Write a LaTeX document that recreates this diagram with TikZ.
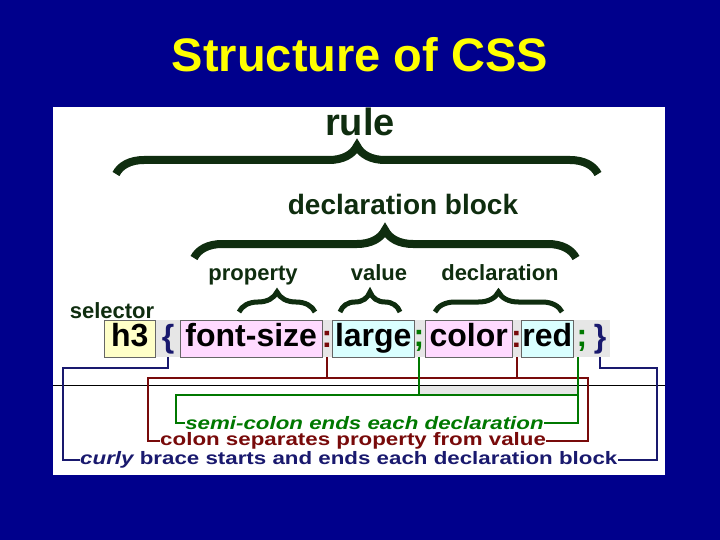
\documentclass[tikz,border=0pt]{standalone}
\usepackage{fontspec}
\setmainfont{Liberation Sans}
\usetikzlibrary{decorations.pathreplacing}
\definecolor{bg}{RGB}{0,0,140}
\definecolor{ttl}{RGB}{255,255,0}
\definecolor{brc}{RGB}{15,45,15}
\definecolor{dgreen}{RGB}{0,120,0}
\definecolor{dred}{RGB}{120,10,10}
\definecolor{dblue}{RGB}{25,25,110}
\definecolor{pinkb}{RGB}{255,218,255}
\definecolor{cyanb}{RGB}{218,255,255}
\definecolor{yelb}{RGB}{255,255,200}
\definecolor{grayb}{RGB}{230,230,230}
\tikzset{
  bigbrace/.style={draw=brc,line width=8pt,decorate,decoration={brace,amplitude=28pt,aspect=0.5}},
  smallbrace/.style={draw=brc,line width=5pt,decorate,decoration={brace,amplitude=20pt}},
  codebox/.style={draw=black!60,line width=0.5pt,minimum height=37pt,inner sep=0pt,text height=23pt,text depth=7pt,font=\fontsize{32}{32}\bfseries,anchor=west},
  glyph/.style={inner sep=0pt,font=\fontsize{32}{32}\bfseries},
  lbl/.style={inner sep=0pt,font=\bfseries,text=brc},
  note/.style={inner sep=0pt,font=\fontsize{18}{18}\bfseries,anchor=west,xscale=1.24,transform shape},
  conn/.style={line width=2pt}
}
\begin{document}
\begin{tikzpicture}[x=1pt,y=-1pt]
\fill[bg] (0,0) rectangle (720,540);
\useasboundingbox (0,0) rectangle (720,540);
\node[text=ttl,font=\fontsize{47}{47}\bfseries] (title) at (360,55) {Structure of CSS};
\fill[white] (53,107) rectangle (665,475);
% labels
\node[lbl,font=\fontsize{38}{38}\bfseries] (rule) at (360,122) {rule};
\node[lbl,font=\fontsize{28}{28}\bfseries] (db) at (403,204) {declaration block};
\node[lbl,font=\fontsize{22}{22}\bfseries] (prop) at (253,276) {property};
\node[lbl,font=\fontsize{22}{22}\bfseries] (val) at (379,273) {value};
\node[lbl,font=\fontsize{22}{22}\bfseries] (decl) at (500,273) {declaration};
\node[lbl,font=\fontsize{22}{22}\bfseries] (sel) at (112,311) {selector};
% braces
\draw[bigbrace] (116,174) -- (598,174);
\draw[bigbrace] (194,258) -- (576,258);
\draw[smallbrace] (239,312) -- (315,312);
\draw[smallbrace] (340,312) -- (400,312);
\draw[smallbrace] (435,312) -- (562,312);
% code row
\fill[grayb] (155,320) rectangle (610,357);
\fill[grayb] (420,385) rectangle (578,395);
\node[codebox,fill=yelb,minimum width=51pt] (h3) at (104,338.5) {h3};
\node[codebox,fill=pinkb,minimum width=142pt] (fs) at (180,338.5) {font-size};
\node[codebox,fill=cyanb,minimum width=82pt] (lg) at (332,338.5) {large};
\node[codebox,fill=pinkb,minimum width=87pt] (col) at (425,338.5) {color};
\node[codebox,fill=cyanb,minimum width=52pt] (rd) at (521,338.5) {red};
\node[glyph,text=dblue] (ob) at (168,339) {\{};
\node[glyph,text=dred] (c1) at (327,339) {:};
\node[glyph,text=dgreen] (s1) at (419,341) {;};
\node[glyph,text=dred] (c2) at (516.5,339) {:};
\node[glyph,text=dgreen] (s2) at (582,341) {;};
\node[glyph,text=dblue] (cb) at (600,339) {\}};
\draw[black,line width=0.6pt] (53,385) -- (665,385);
% notes
\node[note,text=dgreen] (n1) at (185,423) {\itshape semi-colon ends each declaration};
\node[note,text=dred] (n2) at (160,441) {colon separates property from value};
\node[note,text=dblue] (n3) at (80,460) {\itshape curly\upshape\ brace starts and ends each declaration block};
% connectors
\coordinate (bl) at (63,368); \coordinate (br) at (657,368);
\draw[conn,dblue] (ob.south|-0,357) -- (ob.south|-0,368) -- (bl) |- (n3.west);
\draw[conn,dblue] (cb.south|-0,357) -- (cb.south|-0,368) -- (br) |- (n3.east);
\coordinate (rl) at (148,378); \coordinate (rr) at (588,378);
\draw[conn,dred] (c1.center|-0,357) -- (c1.center|-0,378);
\draw[conn,dred] (c2.center|-0,357) -- (c2.center|-0,378);
\draw[conn,dred] (n2.west) -| (rl) -- (rr) |- (n2.east);
\coordinate (gl) at (176,395); \coordinate (gr) at (578,395);
\draw[conn,dgreen] (s1.center|-0,357) -- (s1.center|-0,395);
\draw[conn,dgreen] (gr|-0,357) -- (gr);
\draw[conn,dgreen] (n1.west) -| (gl) -- (gr) |- (n1.east);
\end{tikzpicture}
\end{document}
